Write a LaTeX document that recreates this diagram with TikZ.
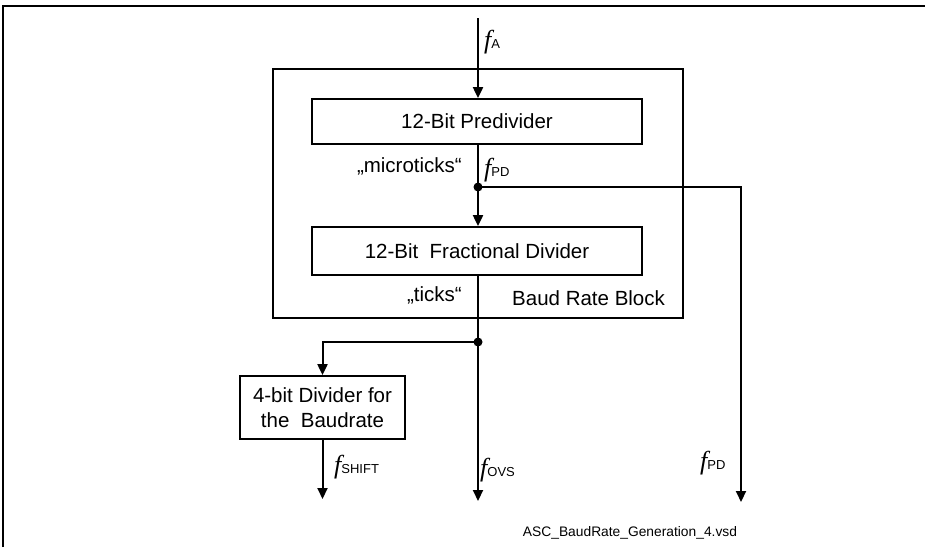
\documentclass[tikz,border=0pt]{standalone}
\usepackage{fontspec}
\setmainfont{Liberation Sans}
\newfontfamily\ffont{Liberation Serif}
\usetikzlibrary{arrows.meta}
\newcommand{\fsym}[1]{{\ffont\itshape\fontsize{26}{26}\selectfont f}{\fontsize{13}{13}\selectfont #1}}
\begin{document}
\begin{tikzpicture}[x=1pt,y=-1pt,
  every node/.style={inner sep=0pt,font=\fontsize{20.5}{25}\selectfont},
  box/.style={draw,line width=1.8pt,rectangle,align=center},
  wire/.style={line width=2pt},
  arr/.style={wire,-{Triangle[length=11pt,width=10pt]}},
  dotc/.style={circle,fill,minimum size=9pt,inner sep=0pt}]
\useasboundingbox (0,0) rectangle (925,547);
% frame
\draw[line width=2pt] (3,547) -- (3,6) -- (925,6);
% baud rate block
\node[box,minimum width=410pt,minimum height=249pt] (block) at (478,193.5) {};
\node[box,minimum width=330pt,minimum height=45pt] (pre) at (477,121.5) {12-Bit Predivider};
\node[box,minimum width=330pt,minimum height=48pt] (frac) at (477,251) {12-Bit\ \ Fractional Divider};
\node[box,minimum width=165pt,minimum height=63pt] (div4) at (322.5,407.5) {4-bit Divider for\\the\ \ Baudrate};
% coordinates
\coordinate (inA) at (478,18);
\node[dotc] (d1) at (478,187) {};
\node[dotc] (d2) at (478,342) {};
\coordinate (cP) at (741,187);
\coordinate (outP) at (741,502);
\coordinate (outO) at (478,501);
\coordinate (outS) at (322.5,499);
% connectors
\draw[arr] (inA) -- (inA |- pre.north);
\draw[wire] (pre.south -| d1) -- (d1.center);
\draw[arr] (d1.center) -- (d1 |- frac.north);
\draw[arr] (d1.center) -- (cP) -- (outP);
\draw[wire] (frac.south -| d2) -- (d2.center);
\draw[arr] (d2.center) -- (outO);
\draw[arr] (d2.center) -| (div4.north);
\draw[arr] (div4.south) -- (outS);
% labels
\node[anchor=west] (lA) at (484,42) {\fsym{A}};
\node[anchor=west] (lPD1) at (484,170) {\fsym{PD}};
\node[anchor=east] (lmicro) at (462,166) {„microticks“};
\node[anchor=east] (lticks) at (462,295) {„ticks“};
\node[anchor=west] (lblock) at (512,298) {Baud Rate Block};
\node[anchor=west] (lS) at (334,467) {\fsym{SHIFT}};
\node[anchor=west] (lO) at (480,470) {\fsym{OVS}};
\node[anchor=west] (lPD2) at (700,463) {\fsym{PD}};
\node[anchor=center,font=\fontsize{13.8}{16}\selectfont] (file) at (630,533) {ASC\_BaudRate\_Generation\_4.vsd};
\end{tikzpicture}
\end{document}
